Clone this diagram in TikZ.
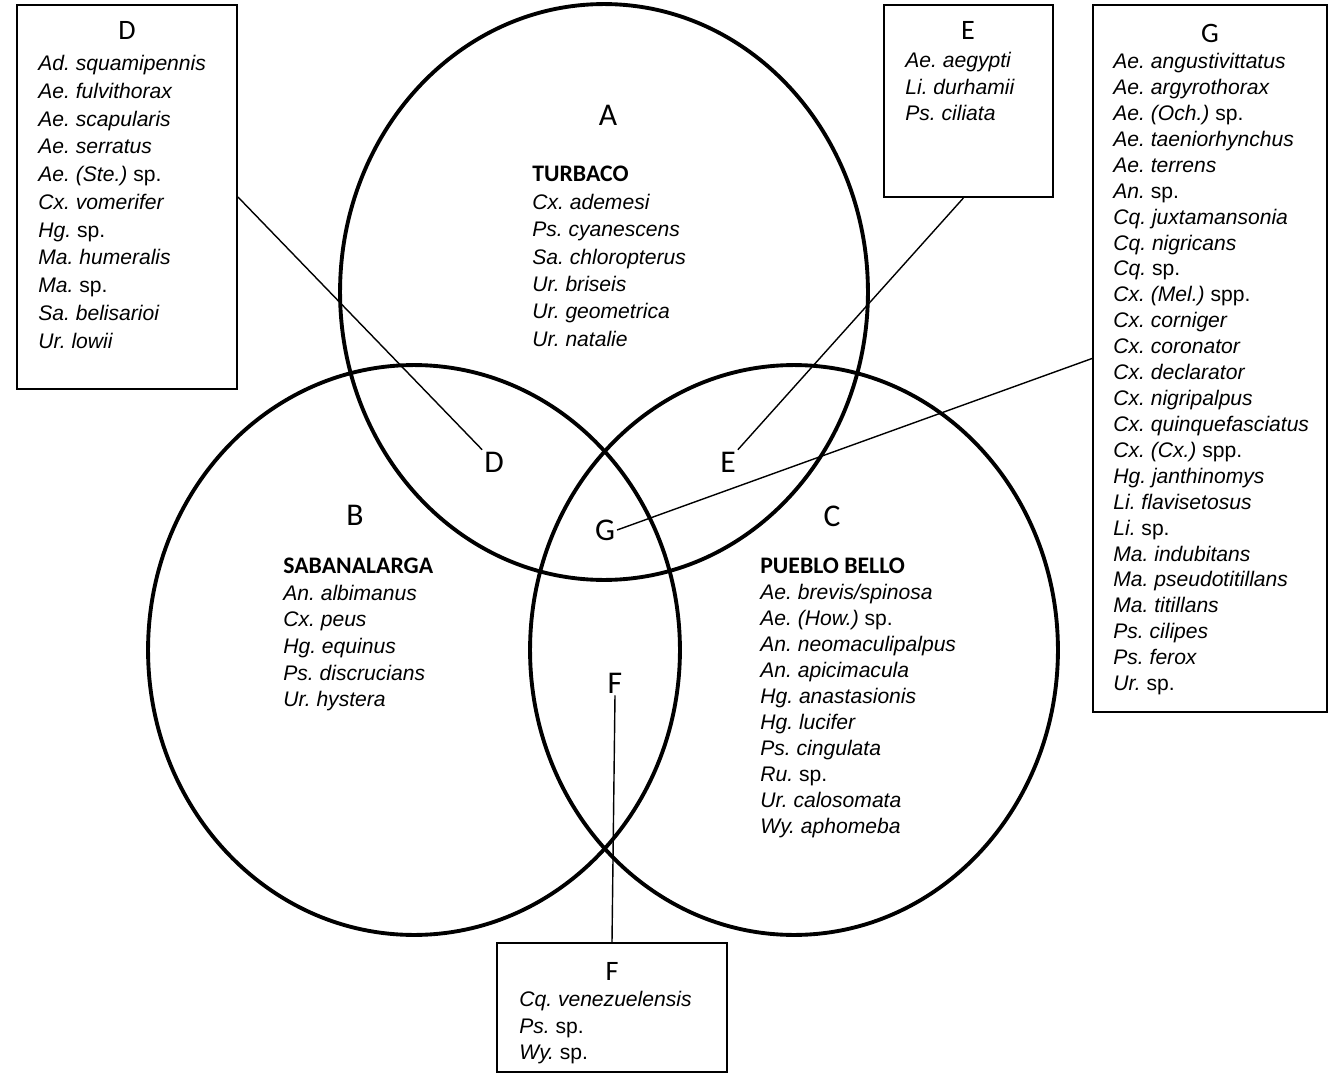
\documentclass[tikz,border=0pt]{standalone}
\usepackage{fontspec}
\setmainfont{Liberation Sans}
\newfontfamily\headfont{Carlito}
\newcommand{\sitename}[1]{{\upshape\headfont\bfseries\fontsize{13.5}{15}\selectfont #1}}
\frenchspacing
\usetikzlibrary{positioning, fit}

\begin{document}
\begin{tikzpicture}[x=0.02cm, y=-0.02cm,
    ring/.style={line width=2.2pt},
    listbox/.style={draw, line width=1.1pt, inner sep=0pt},
    letter/.style={font=\headfont\fontsize{18}{20}\selectfont, inner sep=1pt},
    boxhead/.style={font=\headfont\fontsize{16}{18}\selectfont, inner sep=0pt},
    splist/.style={anchor=north west, align=left, inner sep=0pt, font=\itshape\fontsize{12}{#1}\selectfont},
    link/.style={line width=0.8pt}
]
\useasboundingbox (0,0) rectangle (1330,1075);

% the three sites
\draw[ring] (604,292) ellipse [x radius=5.28cm, y radius=5.76cm];
\draw[ring] (414,650) ellipse [x radius=5.32cm, y radius=5.70cm];
\draw[ring] (794,650) ellipse [x radius=5.28cm, y radius=5.70cm];

\node[letter] (lblA) at (608,115) {A};
\node[letter] (lblB) at (355,515) {B};
\node[letter] (lblC) at (832,516) {C};
\node[letter] (lblD) at (494,462) {D};
\node[letter] (lblE) at (728,462) {E};
\node[letter] (lblG) at (605,530) {G};
\node[letter] (lblF) at (615,683) {F};

\node[splist=15.6] (listA) at (532,166) {\sitename{TURBACO}\\
    Cx. ademesi\\ Ps. cyanescens\\ Sa. chloropterus\\ Ur. briseis\\ Ur. geometrica\\ Ur. natalie};
\node[splist=15.1] (listB) at (283,558) {\sitename{SABANALARGA}\\
    An. albimanus\\ Cx. peus\\ Hg. equinus\\ Ps. discrucians\\ Ur. hystera};
\node[splist=14.8] (listC) at (760,558) {\sitename{PUEBLO BELLO}\\
    Ae. brevis/spinosa\\ Ae. (How.) \textup{sp.}\\ An. neomaculipalpus\\ An. apicimacula\\
    Hg. anastasionis\\ Hg. lucifer\\ Ps. cingulata\\ Ru. \textup{sp.}\\ Ur. calosomata\\ Wy. aphomeba};

% boxes for the shared species
\node[listbox, fit={(17,5) (237,389)}] (boxD) {};
\node[boxhead] (headD) at (127,30) {D};
\node[splist=15.8] (listD) at (38,55) {Ad. squamipennis\\ Ae. fulvithorax\\ Ae. scapularis\\ Ae. serratus\\
    Ae. (Ste.) \textup{sp.}\\ Cx. vomerifer\\ Hg. \textup{sp.}\\ Ma. humeralis\\ Ma. \textup{sp.}\\ Sa. belisarioi\\ Ur. lowii};

\node[listbox, fit={(884,5) (1053,197)}] (boxE) {};
\node[boxhead] (headE) at (968,30) {E};
\node[splist=15.1] (listE) at (905,52) {Ae. aegypti\\ Li. durhamii\\ Ps. ciliata};

\node[listbox, fit={(1093,5) (1327,712)}] (boxG) {};
\node[boxhead] (headG) at (1210,33) {G};
\node[splist=14.75] (listG) at (1113,53) {Ae. angustivittatus\\ Ae. argyrothorax\\ Ae. (Och.) \textup{sp.}\\
    Ae. taeniorhynchus\\ Ae. terrens\\ An. \textup{sp.}\\ Cq. juxtamansonia\\ Cq. nigricans\\ Cq. \textup{sp.}\\
    Cx. (Mel.) \textup{spp.}\\ Cx. corniger\\ Cx. coronator\\ Cx. declarator\\ Cx. nigripalpus\\
    Cx. quinquefasciatus\\ Cx. (Cx.) \textup{spp.}\\ Hg. janthinomys\\ Li. flavisetosus\\ Li. \textup{sp.}\\
    Ma. indubitans\\ Ma. pseudotitillans\\ Ma. titillans\\ Ps. cilipes\\ Ps. ferox\\ Ur. \textup{sp.}};

\node[listbox, fit={(497,943) (727,1072)}] (boxF) {};
\node[boxhead] (headF) at (612,971) {F};
\node[splist=15.1] (listF) at (519,991) {Cq. venezuelensis\\ Ps. \textup{sp.}\\ Wy. \textup{sp.}};

\draw[link] (boxD.east) -- (lblD.north west);
\draw[link] (boxE.-93) -- (lblE.north east);
\draw[link] (boxG.west) -- (lblG.east);
\draw[link] (boxF.north) -- (lblF.south);

\end{tikzpicture}
\end{document}
